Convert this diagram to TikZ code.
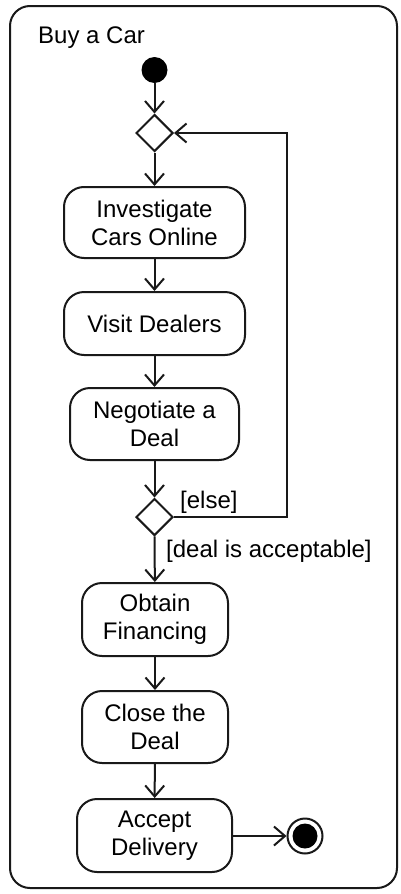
\documentclass[tikz,border=0pt]{standalone}
\usepackage{fontspec}
\setmainfont{Liberation Sans}
\usetikzlibrary{shapes.geometric,arrows.meta}
\begin{document}
\begin{tikzpicture}[x=1pt,y=-1pt,
  every node/.style={font=\fontsize{24}{28}\selectfont},
  flow/.style={line width=2pt,draw=black!90,-{Straight Barb[length=11pt,width=19pt,line width=2pt]}},
  activity/.style={draw=black!90,line width=2pt,rounded corners=20pt,align=center,inner sep=0pt},
  branch/.style={draw=black!90,line width=2pt,diamond,aspect=1,minimum width=37pt,minimum height=37pt,inner sep=0pt},
  guard/.style={anchor=base west,inner sep=0pt}]
\useasboundingbox (0,0) rectangle (401,894);
\fill[white] (0,0) rectangle (401,894);
% activity frame
\draw[line width=2pt,draw=black!90,rounded corners=20pt] (10,6) rectangle (397,888);
\node[anchor=base west,inner sep=0pt] (title) at (38,43) {Buy a Car};

% initial node and merge
\node[circle,fill=black,minimum size=26pt,inner sep=0pt] (start) at (154.5,70) {};
\node[branch] (merge) at (154.5,133) {};

% actions
\node[activity,minimum width=181pt,minimum height=71pt] (inv) at (154.5,222.5) {Investigate\\Cars Online};
\node[activity,minimum width=181pt,minimum height=63pt] (visit) at (154.5,323.5) {Visit Dealers};
\node[activity,minimum width=169pt,minimum height=72pt] (neg) at (154.5,424) {Negotiate a\\Deal};
\node[branch] (dec) at (154.5,517) {};
\node[activity,minimum width=146pt,minimum height=73pt] (fin) at (155,619.5) {Obtain\\Financing};
\node[activity,minimum width=146pt,minimum height=72pt] (close) at (155,727) {Close the\\Deal};
\node[activity,minimum width=155pt,minimum height=73pt] (acc) at (154.5,835.5) {Accept\\Delivery};

% final node
\node[circle,draw=black!90,line width=2pt,minimum size=35pt,inner sep=0pt] (final) at (305,836) {};
\fill[black] (final.center) circle (12.5pt);

% flows
\draw[flow] (start) -- (merge);
\draw[flow] (merge) -- (inv);
\draw[flow] (inv) -- (visit);
\draw[flow] (visit) -- (neg);
\draw[flow] (neg) -- (dec);
\coordinate (loop) at (287,517);
\draw[flow] (dec.east) -- (loop) |- (merge.east);
\draw[flow] (dec) -- (fin);
\draw[flow] (fin) -- (close);
\draw[flow] (close) -- (acc);
\draw[flow] (acc.east |- final) -- (final);

% guards
\node[guard] (gelse) at (180,508) {[else]};
\node[guard] (gok) at (166,557) {[deal is acceptable]};
\end{tikzpicture}
\end{document}
